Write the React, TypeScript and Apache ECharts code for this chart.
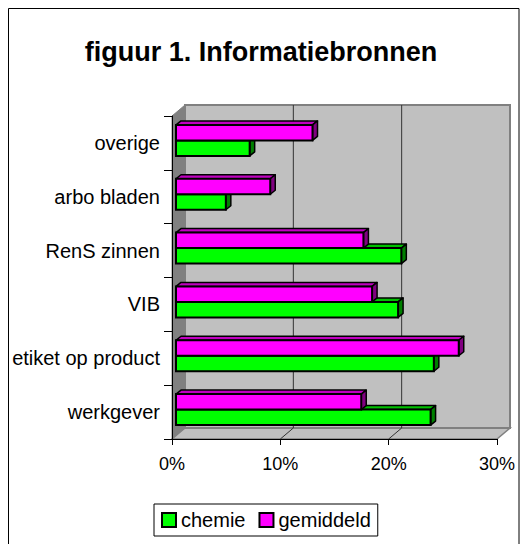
import React, { useEffect, useRef } from 'react';
import * as echarts from 'echarts';

const categories = ['werkgever', 'etiket op product', 'VIB', 'RenS zinnen', 'arbo bladen', 'overige'];
const chemie = [23.5, 23.8, 20.5, 20.8, 4.6, 6.8];
const gemiddeld = [17.1, 26.1, 18.1, 17.3, 8.7, 12.6];
const xTicks = [0, 10, 20, 30];
const seriesNames = ['chemie', 'gemiddeld'];
const titleText = 'figuur 1. Informatiebronnen';

const FONT = "'Liberation Sans', Arial, Helvetica, sans-serif";
const DEPTH_X = 13;
const DEPTH_Y = -11;
const BAR_SHIFT_X = 4;
const BAR_DX = 5;
const BAR_DY = -4;

function makeBarRender(pos: number, front: string, top: string, side: string) {
  return (params: any, api: any) => {
    const v = api.value(0);
    const c = api.value(1);
    const p0 = api.coord([0, c]);
    const p1 = api.coord([v, c]);
    const band = api.size([0, 1])[1];
    const h = band * 0.288;
    const center = p0[1] - band * 0.046;
    const yT = pos === 1 ? center - h : center;
    const yB = yT + h;
    const xL = p0[0] + BAR_SHIFT_X;
    const xR = p1[0] + BAR_SHIFT_X;
    return {
      type: 'group',
      children: [
        {
          type: 'polygon',
          shape: { points: [[xL, yT], [xR, yT], [xR + BAR_DX, yT + BAR_DY], [xL + BAR_DX, yT + BAR_DY]] },
          style: { fill: top, stroke: '#000', lineWidth: 1.5, lineJoin: 'round' },
        },
        {
          type: 'polygon',
          shape: { points: [[xR, yT], [xR + BAR_DX, yT + BAR_DY], [xR + BAR_DX, yB + BAR_DY], [xR, yB]] },
          style: { fill: side, stroke: '#000', lineWidth: 1.5, lineJoin: 'round' },
        },
        {
          type: 'rect',
          shape: { x: xL, y: yT, width: xR - xL, height: h },
          style: { fill: front, stroke: '#000', lineWidth: 2 },
        },
      ],
    };
  };
}

function wallsRender(params: any, api: any) {
  const cs = params.coordSys;
  const x = cs.x, y = cs.y, w = cs.width, h = cs.height;
  const children: any[] = [
    {
      type: 'polygon',
      shape: { points: [[x, y], [x + DEPTH_X, y + DEPTH_Y], [x + DEPTH_X, y + h + DEPTH_Y], [x, y + h]] },
      style: { fill: '#808080', stroke: '#808080', lineWidth: 1 },
    },
    {
      type: 'polygon',
      shape: { points: [[x, y + h], [x + w, y + h], [x + w + DEPTH_X, y + h + DEPTH_Y], [x + DEPTH_X, y + h + DEPTH_Y]] },
      style: { fill: '#c0c0c0', stroke: '#808080', lineWidth: 1.5 },
    },
    {
      type: 'rect',
      shape: { x: x + DEPTH_X, y: y + DEPTH_Y, width: w, height: h },
      style: { fill: '#c0c0c0', stroke: '#808080', lineWidth: 2 },
    },
  ];
  xTicks.slice(1, xTicks.length - 1).forEach((t) => {
    const px = api.coord([t, 0])[0];
    children.push({
      type: 'polyline',
      shape: { points: [[px + DEPTH_X, y + DEPTH_Y], [px + DEPTH_X, y + h + DEPTH_Y], [px, y + h]] },
      style: { stroke: '#333', lineWidth: 1, fill: 'none' },
    });
  });
  return { type: 'group', children };
}

export default function App() {
  const ref = useRef<HTMLDivElement>(null);
  useEffect(() => {
    if (!ref.current) return;
    const chart = echarts.init(ref.current, undefined, { renderer: 'svg' });
    const colors = [
      { front: '#00ff00', top: '#00c000', side: '#008000' },
      { front: '#ff00ff', top: '#c000c0', side: '#800080' },
    ];
    chart.setOption({
      animation: false,
      backgroundColor: '#ffffff',
      title: {
        text: titleText,
        left: 'center',
        top: 33,
        textStyle: { fontFamily: FONT, fontSize: 27, fontWeight: 'bold', color: '#000' },
      },
      legend: {
        left: 154,
        top: 504,
        orient: 'horizontal',
        icon: 'rect',
        itemWidth: 14,
        itemHeight: 14,
        itemGap: 13,
        padding: [6, 7, 6, 7],
        borderColor: '#000',
        borderWidth: 1,
        borderRadius: 0,
        textStyle: { fontFamily: FONT, fontSize: 20, color: '#000' },
        data: seriesNames.map((n, i) => ({
          name: n,
          itemStyle: { color: colors[i].front, borderColor: '#000', borderWidth: 2 },
        })),
      },
      grid: { left: 172, top: 116, right: 25, bottom: 105, containLabel: false },
      xAxis: {
        type: 'value',
        min: 0,
        max: 30,
        interval: 10,
        z: 3,
        axisLine: { show: true, lineStyle: { color: '#000', width: 1 } },
        axisTick: { show: true, length: 6, lineStyle: { color: '#000' } },
        splitLine: { show: false },
        axisLabel: {
          formatter: '{value}%',
          fontFamily: FONT,
          fontSize: 18,
          color: '#000',
          margin: 16,
        },
      },
      yAxis: {
        type: 'category',
        data: categories,
        z: 3,
        axisLine: { show: true, lineStyle: { color: '#000', width: 1 } },
        axisTick: { show: true, length: 8, lineStyle: { color: '#000' } },
        axisLabel: { fontFamily: FONT, fontSize: 20, color: '#000', margin: 12 },
      },
      graphic: [
        {
          type: 'rect',
          shape: { x: 8.5, y: 8.5, width: 510.5, height: 600 },
          style: { fill: 'none', stroke: '#000', lineWidth: 1 },
          silent: true,
          z: 10,
        },
      ],
      series: [
        {
          type: 'custom',
          name: 'walls',
          z: 1,
          silent: true,
          renderItem: wallsRender,
          data: [[0, 0]],
          encode: { x: 0, y: 1 },
        },
        {
          type: 'custom',
          name: seriesNames[0],
          z: 5,
          itemStyle: { color: colors[0].front },
          renderItem: makeBarRender(0, colors[0].front, colors[0].top, colors[0].side),
          data: chemie.map((v, i) => [v, i]),
          encode: { x: 0, y: 1 },
        },
        {
          type: 'custom',
          name: seriesNames[1],
          z: 6,
          itemStyle: { color: colors[1].front },
          renderItem: makeBarRender(1, colors[1].front, colors[1].top, colors[1].side),
          data: gemiddeld.map((v, i) => [v, i]),
          encode: { x: 0, y: 1 },
        },
      ],
    });
    return () => chart.dispose();
  }, []);
  return (
    <div
      ref={ref}
      style={{ position: 'absolute', left: 0, top: 0, width: 522, height: 544 }}
    />
  );
}
